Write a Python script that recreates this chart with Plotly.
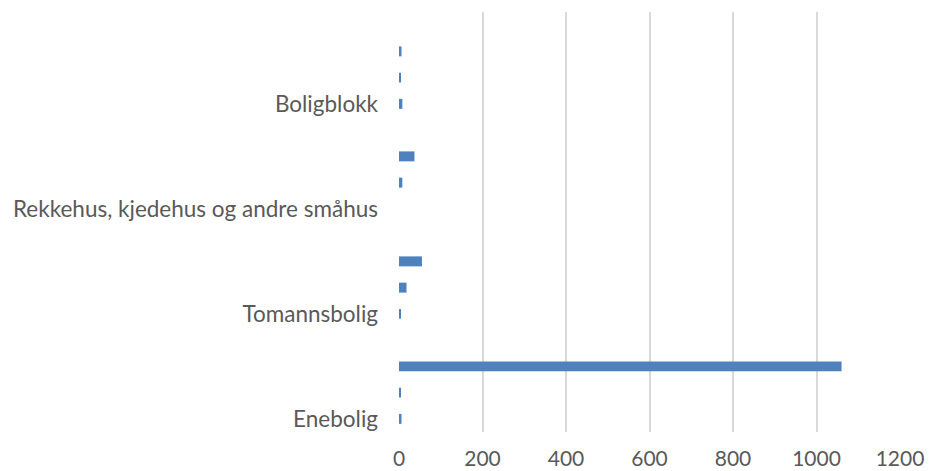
import plotly.graph_objects as go

# Category labels (one row per bar slot; blank rows belong to the group above)
categories = ["Enebolig", "", "", "",
              "Tomannsbolig", "", "", "",
              "Rekkehus, kjedehus og andre småhus", "", "", "",
              "Boligblokk", "", "", ""]
values = [6, 3, 1060, 0,
          3, 18, 55, 0,
          0, 8, 37, 0,
          8, 3, 6, 0]
x_ticks = [0, 200, 400, 600, 800, 1000, 1200]

positions = list(range(len(categories)))
label_pos = [p for p, c in zip(positions, categories) if c]
label_txt = [c for c in categories if c]

fig = go.Figure(go.Bar(
    x=values, y=positions, orientation="h",
    marker=dict(color="#4F81BD", line=dict(width=0)),
    width=0.38,
))

font_family = "Lato, 'Open Sans', sans-serif"

fig.update_layout(
    width=930, height=471,
    margin=dict(l=399, r=30, t=12, b=39, autoexpand=False),
    paper_bgcolor="white", plot_bgcolor="white",
    showlegend=False,
    font=dict(family=font_family, color="#595959", size=22.5),
    xaxis=dict(
        range=[0, 1200], tickvals=x_ticks,
        showgrid=True, gridcolor="#D9D9D9", gridwidth=1.5,
        zeroline=False, showline=False, automargin=False,
        tickfont=dict(size=21, color="#595959"),
        ticks="", ticklabelstandoff=12,
    ),
    yaxis=dict(
        range=[-0.5, len(categories) - 0.5],
        tickvals=label_pos, ticktext=label_txt,
        showgrid=False, zeroline=False, showline=False, automargin=False,
        tickfont=dict(size=22.5, color="#595959"),
        ticks="", ticklabelstandoff=20,
    ),
)

fig.write_html(
    "out.html",
    config={"displayModeBar": False},
    post_script="document.body.style.margin='0';document.body.style.overflow='hidden';",
)
